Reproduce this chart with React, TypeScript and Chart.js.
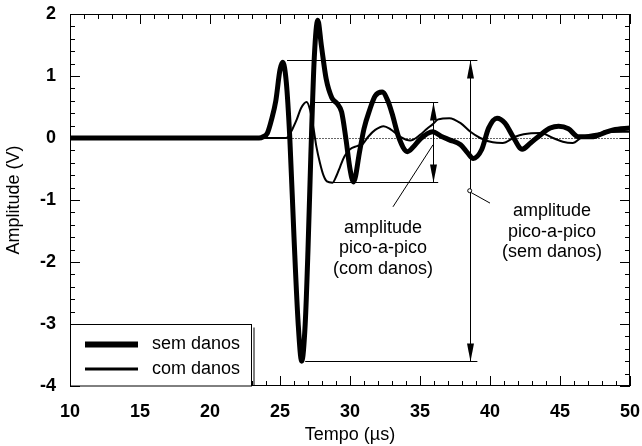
import React, { useEffect, useRef } from 'react';
import { Chart, registerables } from 'chart.js';

Chart.register(...registerables);

// ---- Data (time in µs, amplitude in V) ----
const semDanosX = [10, 23.5, 23.8, 24.1, 24.4, 24.7, 25.0, 25.2, 25.45, 25.7, 26.0, 26.3, 26.55, 26.8, 27.0, 27.2, 27.45, 27.7, 27.95, 28.3, 28.7, 29.1, 29.4, 29.7, 30.0, 30.25, 30.7, 31.0, 31.4, 31.8, 32.3, 32.7, 33.0, 33.5, 34.1, 34.5, 35.0, 35.9, 36.5, 37.1, 37.9, 38.4, 38.8, 39.4, 39.9, 40.5, 41.07, 41.6, 42.3, 42.9, 43.6, 44.3, 44.9, 45.6, 46.3, 47.4, 48.1, 48.8, 50];
const semDanosY = [0, 0, 0.02, 0.08, 0.3, 0.6, 1.1, 1.22, 0.9, 0.0, -1.6, -3.0, -3.6, -3.0, -1.8, -0.3, 1.3, 1.9, 1.5, 0.95, 0.65, 0.55, 0.42, 0.0, -0.5, -0.71, -0.2, 0.15, 0.45, 0.68, 0.74, 0.6, 0.4, 0.0, -0.22, -0.15, -0.02, 0.1, 0.03, -0.03, -0.11, -0.24, -0.33, -0.19, 0.16, 0.32, 0.24, 0.04, -0.18, -0.08, 0.05, 0.16, 0.19, 0.15, 0.02, 0.02, 0.08, 0.13, 0.16];

const comDanosX = [10, 25.4, 25.6, 25.9, 26.2, 26.5, 26.9, 27.15, 27.4, 27.6, 27.85, 28.1, 28.35, 28.75, 29.05, 29.3, 29.6, 30.0, 30.5, 30.9, 31.3, 31.8, 32.4, 32.9, 33.6, 34.3, 35.0, 35.5, 35.9, 36.3, 37.1, 37.9, 38.6, 39.3, 40.2, 40.9, 41.8, 42.4, 43.6, 44.5, 45.2, 45.9, 46.6, 47.9, 49.5, 50];
const comDanosY = [0, 0, 0.02, 0.15, 0.3, 0.48, 0.58, 0.45, 0.15, -0.14, -0.4, -0.6, -0.7, -0.72, -0.6, -0.46, -0.3, -0.18, -0.13, -0.1, 0.02, 0.13, 0.19, 0.14, 0.02, -0.04, 0.05, 0.15, 0.22, 0.3, 0.32, 0.24, 0.1, 0.0, -0.07, -0.08, 0.02, 0.06, 0.08, 0.0, -0.06, -0.08, 0.02, 0.08, 0.1, 0.1];

const seriesLabels = ['sem danos', 'com danos'];
const xTitle = 'Tempo (µs)';
const yTitle = 'Amplitude (V)';
const xMin = 10, xMax = 50, xMajor = 5, xMinor = 1;
const yMin = -4, yMax = 2, yMajor = 1, yMinor = 0.2;

// peak-to-peak annotations (data coordinates)
const ppSem = { x: 38.55, top: 1.26, bottom: -3.6, topFrom: 25.5, bottomFrom: 26.8, to: 39.1 };
const ppCom = { x: 35.93, top: 0.58, bottom: -0.71, topFrom: 27.3, bottomFrom: 28.6, to: 36.3 };
const labelCom = ['amplitude', 'pico-a-pico', '(com danos)'];
const labelSem = ['amplitude', 'pico-a-pico', '(sem danos)'];
const labelComAnchor = { x: 32.36, y: -1.45, step: 0.33 };
const labelSemAnchor = { x: 44.43, y: -1.18, step: 0.33 };
const leaderCom = [{ x: 35.93, y: -0.11 }, { x: 33.07, y: -1.11 }];
const leaderSem = [{ x: 38.65, y: -0.88 }, { x: 40.0, y: -1.05 }];
const leaderSemDot = { x: 38.55, y: -0.85 };

const FONT = '"Liberation Sans", Arial, Helvetica, sans-serif';

function arrowHead(ctx: CanvasRenderingContext2D, x: number, tipY: number, dir: number) {
  // dir = -1 pointing up, +1 pointing down
  const len = 18, hw = 3.5;
  ctx.beginPath();
  ctx.moveTo(x, tipY);
  ctx.lineTo(x - hw, tipY - dir * len);
  ctx.lineTo(x + hw, tipY - dir * len);
  ctx.closePath();
  ctx.fill();
}

const decorPlugin = {
  id: 'decor',
  beforeDatasetsDraw(chart: any) {
    const { ctx, chartArea, scales } = chart;
    const ys = scales.y;
    ctx.save();
    ctx.strokeStyle = '#666';
    ctx.lineWidth = 1;
    ctx.setLineDash([2, 1]);
    const y0 = Math.round(ys.getPixelForValue(0)) + 0.5;
    ctx.beginPath();
    ctx.moveTo(chartArea.left, y0);
    ctx.lineTo(chartArea.right, y0);
    ctx.stroke();
    ctx.restore();
  },
  afterDatasetsDraw(chart: any) {
    const { ctx, chartArea, scales } = chart;
    const xs = scales.x, ys = scales.y;
    const L = chartArea.left, R = chartArea.right, T = chartArea.top, B = chartArea.bottom;
    ctx.save();
    ctx.strokeStyle = '#000';
    ctx.fillStyle = '#000';
    ctx.lineWidth = 1;
    // frame
    ctx.strokeRect(L + 0.5, T + 0.5, R - L - 1, B - T - 1);
    // ticks (inward, on all sides)
    ctx.beginPath();
    for (let v = xMin; v <= xMax + 1e-9; v += xMinor) {
      const px = Math.round(xs.getPixelForValue(v)) + 0.5;
      const major = Math.abs(v / xMajor - Math.round(v / xMajor)) < 1e-6;
      const len = major ? 10 : 5;
      ctx.moveTo(px, B); ctx.lineTo(px, B - len);
      ctx.moveTo(px, T); ctx.lineTo(px, T + len);
    }
    for (let i = 0; i <= Math.round((yMax - yMin) / yMinor); i++) {
      const v = yMin + i * yMinor;
      const py = Math.round(ys.getPixelForValue(v)) + 0.5;
      const major = i % Math.round(yMajor / yMinor) === 0;
      const len = major ? 10 : 5;
      ctx.moveTo(L, py); ctx.lineTo(L + len, py);
      ctx.moveTo(R, py); ctx.lineTo(R - len, py);
    }
    ctx.stroke();

    // peak-to-peak annotation lines
    const drawPP = (pp: any) => {
      const x = Math.round(xs.getPixelForValue(pp.x)) + 0.5;
      const yt = Math.round(ys.getPixelForValue(pp.top)) + 0.5;
      const yb = Math.round(ys.getPixelForValue(pp.bottom)) + 0.5;
      ctx.beginPath();
      ctx.moveTo(xs.getPixelForValue(pp.topFrom), yt);
      ctx.lineTo(xs.getPixelForValue(pp.to), yt);
      ctx.moveTo(xs.getPixelForValue(pp.bottomFrom), yb);
      ctx.lineTo(xs.getPixelForValue(pp.to), yb);
      ctx.moveTo(x, yt);
      ctx.lineTo(x, yb);
      ctx.stroke();
      arrowHead(ctx, x, yt, -1);
      arrowHead(ctx, x, yb, 1);
    };
    drawPP(ppSem);
    drawPP(ppCom);

    // leader lines
    const seg = (pts: any[]) => {
      ctx.beginPath();
      ctx.moveTo(xs.getPixelForValue(pts[0].x), ys.getPixelForValue(pts[0].y));
      ctx.lineTo(xs.getPixelForValue(pts[1].x), ys.getPixelForValue(pts[1].y));
      ctx.stroke();
    };
    seg(leaderCom);
    seg(leaderSem);
    ctx.beginPath();
    ctx.fillStyle = '#fff';
    ctx.arc(xs.getPixelForValue(leaderSemDot.x), ys.getPixelForValue(leaderSemDot.y), 2, 0, Math.PI * 2);
    ctx.fill();
    ctx.stroke();
    ctx.fillStyle = '#000';

    // annotation texts
    ctx.font = `18px ${FONT}`;
    ctx.textAlign = 'center';
    ctx.textBaseline = 'middle';
    labelCom.forEach((t, i) => {
      ctx.fillText(t, xs.getPixelForValue(labelComAnchor.x), ys.getPixelForValue(labelComAnchor.y - i * labelComAnchor.step));
    });
    labelSem.forEach((t, i) => {
      ctx.fillText(t, xs.getPixelForValue(labelSemAnchor.x), ys.getPixelForValue(labelSemAnchor.y - i * labelSemAnchor.step));
    });

    // legend box
    const bx = L, by = Math.round(ys.getPixelForValue(-3)) + 0.5, bw = 181, bh = B - by;
    ctx.fillStyle = '#fff';
    ctx.fillRect(bx, by, bw, bh);
    ctx.strokeRect(bx + 0.5, by, bw, bh);
    ctx.beginPath();
    ctx.moveTo(bx + bw + 3, by + 3);
    ctx.lineTo(bx + bw + 3, B);
    ctx.stroke();
    ctx.fillStyle = '#000';
    const dsets = chart.data.datasets;
    dsets.forEach((ds: any, i: number) => {
      const ly = by + 20 + i * 24.5;
      ctx.lineWidth = i === 0 ? 6 : 3;
      ctx.beginPath();
      ctx.moveTo(bx + 15, ly);
      ctx.lineTo(bx + 68, ly);
      ctx.stroke();
      ctx.textAlign = 'left';
      ctx.fillText(ds.label, bx + 82, ly);
    });
    ctx.restore();
  },
};

export default function App() {
  const ref = useRef<HTMLCanvasElement | null>(null);
  useEffect(() => {
    if (!ref.current) return;
    const chart = new Chart(ref.current, {
      type: 'line',
      data: {
        datasets: [
          {
            label: seriesLabels[0],
            data: semDanosX.map((x, i) => ({ x, y: semDanosY[i] })),
            borderColor: '#000',
            borderWidth: 5,
            pointRadius: 0,
            cubicInterpolationMode: 'monotone',
            borderCapStyle: 'round',
            borderJoinStyle: 'round',
          },
          {
            label: seriesLabels[1],
            data: comDanosX.map((x, i) => ({ x, y: comDanosY[i] })),
            borderColor: '#000',
            borderWidth: 2,
            pointRadius: 0,
            cubicInterpolationMode: 'monotone',
          },
        ],
      },
      options: {
        animation: false,
        responsive: false,
        maintainAspectRatio: false,
        layout: { padding: { left: 0, right: 12, top: 14, bottom: 0 } },
        plugins: { legend: { display: false }, tooltip: { enabled: false } },
        scales: {
          x: {
            type: 'linear',
            min: xMin,
            max: xMax,
            grid: { display: false, drawTicks: false },
            border: { display: false },
            ticks: { stepSize: xMajor, padding: 15, color: '#000', font: { family: FONT, size: 18, weight: 'bold' } },
            title: { display: true, text: xTitle, color: '#000', font: { family: FONT, size: 18 }, padding: { top: 0, bottom: 0 } },
            afterFit: (s: any) => { s.height = 60; s.paddingLeft = 0; s.paddingRight = 0; },
          },
          y: {
            type: 'linear',
            min: yMin,
            max: yMax,
            grid: { display: false, drawTicks: false },
            border: { display: false },
            ticks: { stepSize: yMajor, padding: 14, color: '#000', font: { family: FONT, size: 18, weight: 'bold' } },
            title: { display: true, text: yTitle, color: '#000', font: { family: FONT, size: 18 }, padding: { top: 3, bottom: 0 } },
            afterFit: (s: any) => { s.width = 70; s.paddingTop = 0; s.paddingBottom = 0; },
          },
        },
      },
      plugins: [decorPlugin],
    } as any);
    return () => chart.destroy();
  }, []);
  return (
    <div style={{ position: 'absolute', left: 0, top: 0, width: 642, height: 446, background: '#fff' }}>
      <canvas ref={ref} width={642} height={446} style={{ display: 'block', width: 642, height: 446 }} />
    </div>
  );
}
